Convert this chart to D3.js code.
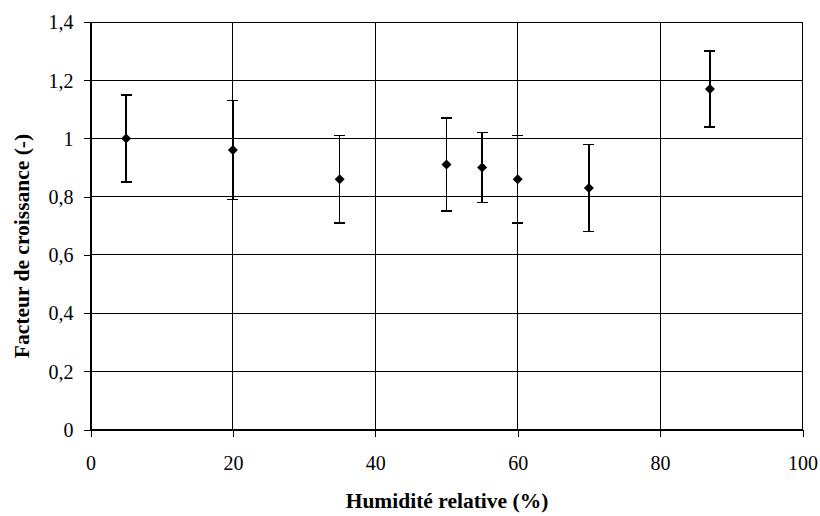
<!DOCTYPE html>
<html><head><meta charset="utf-8">
<script src="https://cdn.jsdelivr.net/npm/d3@7/dist/d3.min.js"></script>
<style>body{margin:0;background:#fff}svg{display:block}text{font-family:"Liberation Serif","Times New Roman",serif;fill:#000}</style>
</head><body><svg id="c" width="820" height="516"></svg>
<script>
const humidity = [5, 20, 35, 50, 55, 60, 70, 87];
const factor   = [1.00, 0.96, 0.86, 0.91, 0.90, 0.86, 0.83, 1.17];
const errLow   = [0.85, 0.79, 0.71, 0.75, 0.78, 0.71, 0.68, 1.04];
const errHigh  = [1.15, 1.13, 1.01, 1.07, 1.02, 1.01, 0.98, 1.30];
const xTicks = [0, 20, 40, 60, 80, 100];
const yTicks = [0, 0.2, 0.4, 0.6, 0.8, 1.0, 1.2, 1.4];
const xTitle = "Humidité relative (%)";
const yTitle = "Facteur de croissance (-)";

const svg = d3.select("#c");
const L = 90.5, R = 802.5, T = 22, B = 429.5;
const x = d3.scaleLinear().domain([0, 100]).range([L, R]);
const y = d3.scaleLinear().domain([0, 1.4]).range([B, T]);
const fmt = v => (v === 0 || v === 1) ? String(v) : d3.format(".1f")(v).replace(".", ",");

// grid
const g = svg.append("g").attr("shape-rendering", "crispEdges");
g.selectAll(".hg").data(yTicks).join("line")
  .attr("x1", L).attr("x2", R).attr("y1", d => y(d)).attr("y2", d => y(d))
  .attr("stroke", "#000").attr("stroke-width", 1);
g.selectAll(".vg").data(xTicks).join("line")
  .attr("x1", d => x(d)).attr("x2", d => x(d)).attr("y1", T).attr("y2", B)
  .attr("stroke", "#000").attr("stroke-width", 1);

// axes
const xAxis = d3.axisBottom(x).tickValues(xTicks).tickSize(7).tickSizeOuter(0).tickPadding(19).tickFormat(d => d);
const yAxis = d3.axisLeft(y).tickValues(yTicks).tickSize(7).tickSizeOuter(0).tickPadding(10).tickFormat(fmt);
const gx = svg.append("g").attr("transform", `translate(0,${B})`).call(xAxis);
const gy = svg.append("g").attr("transform", `translate(${L},0)`).call(yAxis);
[gx, gy].forEach(a => {
  a.attr("shape-rendering", "crispEdges");
  a.selectAll("path,line").attr("stroke", "#000");
  a.selectAll("text").attr("font-size", 20);
});
gy.selectAll("text").attr("dy", "0.34em");

// error bars
const eb = svg.append("g").attr("stroke", "#000").attr("stroke-width", 1.5).attr("shape-rendering", "crispEdges");
humidity.forEach((h, i) => {
  const cx = x(h);
  eb.append("line").attr("x1", cx).attr("x2", cx).attr("y1", y(errLow[i])).attr("y2", y(errHigh[i]));
  eb.append("line").attr("x1", cx - 5.5).attr("x2", cx + 5.5).attr("y1", y(errLow[i])).attr("y2", y(errLow[i]));
  eb.append("line").attr("x1", cx - 5.5).attr("x2", cx + 5.5).attr("y1", y(errHigh[i])).attr("y2", y(errHigh[i]));
});

// markers (diamonds)
svg.append("g").selectAll("path").data(humidity).join("path")
  .attr("d", d3.symbol().type(d3.symbolSquare).size(50))
  .attr("transform", (d, i) => `translate(${x(d)},${y(factor[i])}) rotate(45)`)
  .attr("fill", "#000");

// titles
svg.append("text").attr("x", 447).attr("y", 508).attr("text-anchor", "middle")
  .attr("font-size", 21.5).attr("font-weight", "bold").text(xTitle);
svg.append("text").attr("transform", "translate(29,246) rotate(-90)").attr("text-anchor", "middle")
  .attr("font-size", 21.5).attr("font-weight", "bold").text(yTitle);
</script></body></html>
